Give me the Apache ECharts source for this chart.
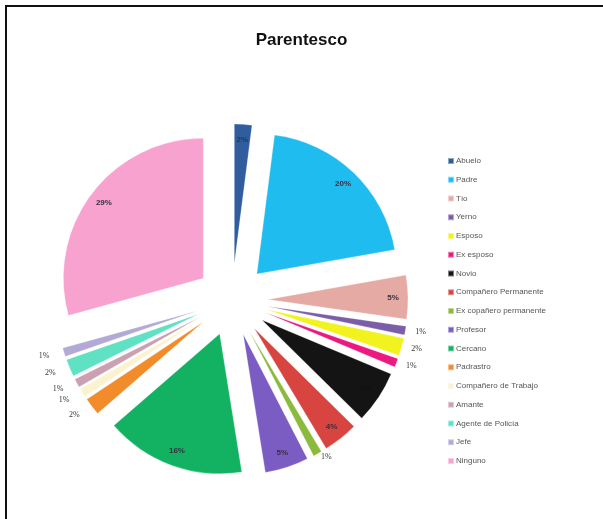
<!DOCTYPE html>
<html>
<head>
<meta charset="utf-8">
<script src="https://cdn.jsdelivr.net/npm/echarts@6/dist/echarts.min.js"></script>
<style>
html,body{margin:0;padding:0;background:#fff;}
#frame{position:absolute;left:5px;top:5px;width:598px;height:514px;border-top:2px solid #111;border-left:2px solid #111;box-sizing:border-box;}
#chart{position:absolute;left:0;top:0;width:603px;height:519px;}
</style>
</head>
<body>
<div id="frame"></div>
<div id="chart"></div>
<script>
const categories = ['Abuelo','Padre','Tío','Yerno','Esposo','Ex esposo','Novio','Compañero Permanente','Ex copañero permanente','Profesor','Cercano','Padrastro','Compañero de Trabajo','Amante','Agente de Policía','Jefe','Ninguno'];
const percentValues = [2,20,5,1,2,1,6,4,1,5,16,2,1,1,2,1,29];
const sliceColors = ['#2f5d9e','#1fbcf0','#e6aaa4','#7a5ea8','#f2f21e','#ea1a80','#141414','#d8443f','#8cba3c','#7b5cc2','#12b262','#f28c2a','#fbf3cf','#caa0b2','#5fe2c4','#b2aad4','#f7a2cf'];
const insideLabel = [true,true,true,false,false,false,true,true,false,true,true,false,false,false,false,false,true];

const R = 140;
function outsideLen(i){
  if (i>=11 && i<=15) return 13;
  if (i>=3 && i<=5) return 8;
  return 3;
}
const mainData = categories.map((n,i)=>({
  name:n, value:percentValues[i], selected:true,
  itemStyle:{color:sliceColors[i]},
  label:{show:!insideLabel[i]},
  labelLine:{show:false,length:outsideLen(i),length2:0}
}));
const labelData = categories.map((n,i)=>({
  name:n, value:percentValues[i], selected:true,
  label:{show:insideLabel[i], color: i===6 ? '#111' : '#3a3040'}
}));

const chart = echarts.init(document.getElementById('chart'));
chart.setOption({
  animation:false,
  title:{text:'Parentesco',left:'center',top:27,textStyle:{fontFamily:'Liberation Sans',fontSize:17,fontWeight:'bold',color:'#111'}},
  legend:{
    orient:'vertical',left:442,top:152,
    data:categories,
    itemWidth:6,itemHeight:6,itemGap:10.75,icon:'rect',
    selectedMode:false,
    textStyle:{fontFamily:'Liberation Sans',fontSize:8,lineHeight:8,color:'#555',padding:[0,0,0,-3]}
  },
  series:[
    {
      type:'pie',center:[232,300],radius:[0,R],
      startAngle:90,clockwise:true,
      selectedMode:'multiple',selectedOffset:36,
      avoidLabelOverlap:false,
      itemStyle:{borderColor:'rgba(255,255,255,0.45)',borderWidth:0.6},
      label:{position:'outside',formatter:'{c}%',fontFamily:'Liberation Serif',fontSize:8,color:'#333',distanceToLabelLine:2},
      labelLine:{show:false,length:3,length2:0},
      emphasis:{disabled:true},
      data:mainData
    },
    {
      type:'pie',center:[232,300],radius:[104,R],
      startAngle:90,clockwise:true,silent:true,
      selectedMode:'multiple',selectedOffset:36,
      avoidLabelOverlap:false,
      itemStyle:{color:'rgba(0,0,0,0)'},
      label:{position:'inside',formatter:'{c}%',fontFamily:'Liberation Sans',fontSize:8,fontWeight:'bold'},
      labelLine:{show:false},
      emphasis:{disabled:true},
      tooltip:{show:false},
      data:labelData
    }
  ]
});
</script>
</body>
</html>
